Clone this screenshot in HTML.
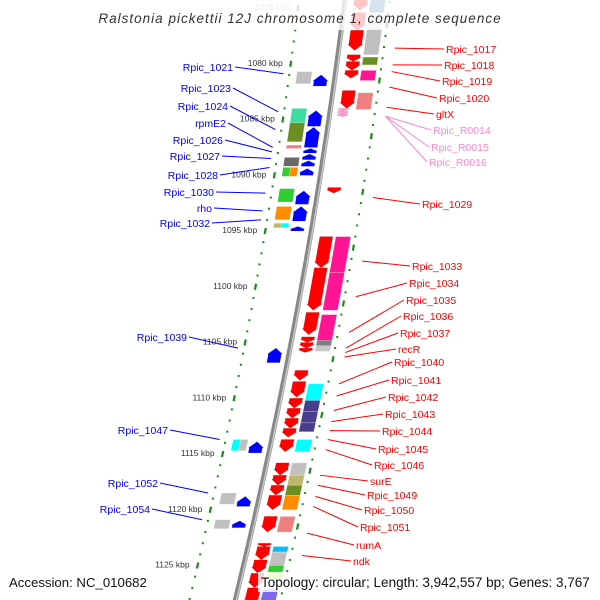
<!DOCTYPE html>
<html><head><meta charset="utf-8">
<style>
html,body{margin:0;padding:0;background:#fff;}
svg{display:block;font-family:"Liberation Sans","DejaVu Sans",sans-serif;}
</style></head>
<body>
<svg id="map" width="600" height="600" viewBox="0 0 600 600" xmlns="http://www.w3.org/2000/svg">
<g id="ticks"></g>
<path id="backbone" fill="none" stroke="#888" stroke-width="5"/>
<path id="backbone2" fill="none" stroke="#c8c8c8" stroke-width="1.5"/>
<g id="boxes"></g>
<g id="arrows"></g>
<g id="labels"></g>
<rect x="0" y="0" width="600" height="30" fill="#fff" fill-opacity="0.78"/>
<text x="300" y="23" text-anchor="middle" font-size="13.5" font-style="italic" fill="#333" letter-spacing="1">Ralstonia pickettii 12J chromosome 1, complete sequence</text>
<rect x="5" y="572" width="146" height="20" fill="#fff" fill-opacity="0.8"/>
<text x="9" y="587" font-size="13.2" fill="#111">Accession: NC_010682</text>
<rect x="258" y="572" width="338" height="20" fill="#fff" fill-opacity="0.8"/>
<text x="261" y="587" font-size="13.5" fill="#111">Topology: circular; Length: 3,942,557 bp; Genes: 3,767</text>
</svg>
<script>
const tickKbp=[1075,1080,1085,1090,1095,1100,1105,1110,1115,1120,1125];
const fwdStart=[1074.0,1075.4,1077.0,1079.2,1079.8,1080.6,1082.4,1091.1,1095.5,1098.3,1102.3,1104.5,1105.0,1105.5,1107.5,1108.5,1110.0,1110.9,1111.8,1112.7,1113.7,1115.8,1116.9,1117.8,1118.7,1120.6,1123.0,1123.3,1124.5,1125.7,1127.0];
const fwdEnd=[1075.2,1077.0,1078.8,1079.8,1080.6,1081.3,1084.0,1091.6,1098.3,1102.1,1104.3,1105.0,1105.5,1105.9,1108.4,1109.9,1110.9,1111.8,1112.7,1113.5,1114.8,1116.9,1117.8,1118.7,1120.0,1122.0,1123.3,1124.5,1125.7,1127.0,1128.5];
const rnaStart=[1084.0,1084.25,1084.5];
const rnaEnd=[1084.25,1084.5,1084.75];
const revStart=[1081.0,1084.2,1085.7,1087.6,1088.1,1088.7,1089.4,1091.4,1092.8,1094.6,1105.5,1113.9,1118.8,1121.0];
const revEnd=[1082.0,1085.6,1087.5,1088.0,1088.6,1089.2,1090.0,1092.6,1094.1,1095.0,1106.8,1114.9,1119.7,1121.6];
const fBoxStart=[1074.0,1075.4,1076.8,1079.4,1080.6,1082.6,1095.5,1098.7,1102.5,1104.8,1105.3,1108.7,1110.2,1111.2,1112.2,1113.7,1115.8,1116.9,1117.8,1118.7,1120.6,1123.3,1123.8,1125.0,1125.6,1126.3,1127.1];
const fBoxEnd=[1075.4,1076.8,1079.2,1080.1,1081.5,1084.1,1098.7,1102.1,1105.5,1105.3,1105.8,1110.2,1111.2,1112.2,1113.0,1114.8,1116.9,1117.8,1118.7,1120.0,1122.0,1123.8,1125.0,1125.6,1126.3,1127.1,1128.5];
const fBoxColor=['#4682b4','#ddd','#c0c0c0','#6b8e23','#ff1493','#f08080','#ff1493','#ff1493','#ff1493','#808080','#c8c8c8','#00ffff','#483d8b','#483d8b','#483d8b','#00ffff','#c0c0c0','#bdb76b','#6b8e23','#ff8c00','#f08080','#00bfff','#c0c0c0','#32cd32','#adff2f','#eeeeee','#7b68ee'];
const rBoxStart=[1080.7,1084.0,1085.3,1087.3,1088.4,1089.3,1089.3,1091.2,1092.8,1094.3,1094.3,1113.7,1113.7,1118.5,1120.9];
const rBoxEnd=[1081.8,1085.3,1087.0,1087.6,1089.2,1090.1,1090.1,1092.4,1094.0,1094.7,1094.7,1114.7,1114.7,1119.5,1121.7];
const rBoxColor=['#c0c0c0','#3cdca0','#6b8e23','#f08080','#696969','#32cd32','#ff8c00','#32cd32','#ff8c00','#bdb76b','#00ffff','#00ffff','#c0c0c0','#c0c0c0','#c0c0c0'];
const rBoxPart=[0,0,0,0,0,1,2,0,0,1,2,1,2,0,0];
const leftNames=['Rpic_1021','Rpic_1023','Rpic_1024','rpmE2','Rpic_1026','Rpic_1027','Rpic_1028','Rpic_1030','rho','Rpic_1032','Rpic_1039','Rpic_1047','Rpic_1052','Rpic_1054'];
const leftAnchor=[1080.9,1084.3,1085.9,1087.5,1087.9,1088.5,1089.3,1091.6,1093.2,1094.0,1105.5,1113.7,1118.5,1120.9];
const leftTextX=[233,231,228,226,223,220,218,214,212,210,187,168,158,150];
const leftTextY=[67,88,106,123,140,156,175,192,208,223,337,430,483,509];
const rightNames=['Rpic_1017','Rpic_1018','Rpic_1019','Rpic_1020','gltX','Rpic_R0014','Rpic_R0015','Rpic_R0016','Rpic_1029','Rpic_1033','Rpic_1034','Rpic_1035','Rpic_1036','Rpic_1037','recR','Rpic_1040','Rpic_1041','Rpic_1042','Rpic_1043','Rpic_1044','Rpic_1045','Rpic_1046','surE','Rpic_1049','Rpic_1050','Rpic_1051','rumA','ndk'];
const rightAnchor=[1078.6,1080.1,1080.7,1082.1,1083.9,1084.7,1084.7,1084.7,1092.0,1097.7,1100.9,1104.1,1105.5,1105.9,1106.3,1108.7,1109.8,1111.1,1112.1,1112.9,1113.7,1114.6,1116.9,1117.8,1118.8,1119.7,1122.1,1124.1];
const rightTextX=[446,444,442,439,436,433,431,429,422,412,409,406,403,400,398,394,391,388,385,382,378,374,370,367,364,360,356,353];
const rightTextY=[49,65,81,98,114,130,147,162,204,266,283,300,316,333,349,362,380,397,414,431,449,465,481,495,510,527,545,561];
const rightPink=[0,0,0,0,0,1,1,1,0,0,0,0,0,0,0,0,0,0,0,0,0,0,0,0,0,0,0,0];

const NS='http://www.w3.org/2000/svg';
function yOf(k){return 8+(k-1075)*11.15;}
function xb(y){return 345-0.1232*y-0.0000993*y*y;}
function mk(tag,attrs,parent){const e=document.createElementNS(NS,tag);for(const a in attrs)e.setAttribute(a,attrs[a]);parent.appendChild(e);return e;}
function pt(y,o){return (xb(y)+o).toFixed(1)+','+y.toFixed(1);}

let d='';for(let y=-5;y<=605;y+=5){d+=(y===-5?'M':'L')+(xb(y)).toFixed(1)+' '+y+' ';}
document.getElementById('backbone').setAttribute('d',d);
let d2='';for(let y=-5;y<=605;y+=5){d2+=(y===-5?'M':'L')+(xb(y)+1.3).toFixed(1)+' '+y+' ';}
document.getElementById('backbone2').setAttribute('d',d2);

const tg=document.getElementById('ticks');
for(let k=1073;k<=1129;k++){
  const y=yOf(k);
  const major=tickKbp.indexOf(k)>=0;
  const l=major?mk('line',{x1:xb(y-3)-46,y1:y-3,x2:xb(y+3)-46,y2:y+3,stroke:'#1a8a1a','stroke-width':2.2},tg):mk('rect',{x:xb(y)-47,y:y-1,width:2,height:2,fill:'#1a8a1a'},tg);
  
  
  const yr=yOf(k+0.5);
  const rmaj=((k-1076)%5===0);
  const r=rmaj?mk('line',{x1:xb(yr-3)+45,y1:yr-3,x2:xb(yr+3)+45,y2:yr+3,stroke:'#1a8a1a','stroke-width':2.2},tg):mk('rect',{x:xb(yr)+44,y:yr-1,width:2,height:2,fill:'#1a8a1a'},tg);
  
  
}
tickKbp.forEach(k=>{
  const y=yOf(k);
  const t=mk('text',{x:xb(y)-54,y:y+2,'text-anchor':'end','font-size':8.5,fill:k===1075?'#aaa':'#333'},tg);
  t.textContent=k+' kbp';
  
  
});

const bg=document.getElementById('boxes');
function box(s,e,o,w,c,name){
  const y1=yOf(s),y2=yOf(e);
  const p=mk('polygon',{points:[pt(y1,o-w/2),pt(y1,o+w/2),pt(y2,o+w/2),pt(y2,o-w/2)].join(' '),fill:c,stroke:'rgba(255,255,255,0.35)','stroke-width':0.6},bg);
  
  
}
fBoxStart.forEach((s,i)=>box(s,fBoxEnd[i],33,15,fBoxColor[i],'forward-cog-box'));
rBoxStart.forEach((s,i)=>{
  const part=rBoxPart[i];
  if(part===0)box(s,rBoxEnd[i],-31,15,rBoxColor[i],'reverse-cog-box');
  else box(s,rBoxEnd[i],part===1?-34.75:-27.25,7.5,rBoxColor[i],'reverse-cog-box');
});

const ag=document.getElementById('arrows');
function arrow(s,e,o,w,c,dir,name){
  const y1=yOf(s),y2=yOf(e),len=y2-y1;
  const h=Math.min(6,len*0.6);
  let pts;
  if(dir>0){pts=[pt(y1,o-w/2+1),pt(y1,o+w/2-1),pt(y2-h,o+w/2-1),pt(y2-h,o+w/2),pt(y2,o),pt(y2-h,o-w/2),pt(y2-h,o-w/2+1)];}
  else{pts=[pt(y2,o-w/2+1),pt(y2,o+w/2-1),pt(y1+h,o+w/2-1),pt(y1+h,o+w/2),pt(y1,o),pt(y1+h,o-w/2),pt(y1+h,o-w/2+1)];}
  const p=mk('polygon',{points:pts.join(' '),fill:c,stroke:'rgba(0,0,0,0.12)','stroke-width':0.6},ag);
  
  
}
fwdStart.forEach((s,i)=>arrow(s,fwdEnd[i],16,15,'#ff0000',1,'forward-gene-arrow'));
rnaStart.forEach((s,i)=>arrow(s,rnaEnd[i],13,12,'#ff99cc',1,'rna-gene-arrow'));
revStart.forEach((s,i)=>arrow(s,revEnd[i],-14,15,'#0000ff',-1,'reverse-gene-arrow'));

const lg=document.getElementById('labels');
leftNames.forEach((n,i)=>{
  const ay=yOf(leftAnchor[i]);
  const l=mk('line',{x1:leftTextX[i]+2,y1:leftTextY[i],x2:xb(ay)-52,y2:ay,stroke:'#0000ff','stroke-width':1},lg);
  
  
  const t=mk('text',{x:leftTextX[i],y:leftTextY[i]+4,'text-anchor':'end','font-size':10.5,fill:'#0000ff'},lg);
  t.textContent=n;
  
  
});
rightNames.forEach((n,i)=>{
  const ay=yOf(rightAnchor[i]);
  const c=rightPink[i]?'#ff88c8':'#ff0000';
  const l=mk('line',{x1:xb(ay)+56,y1:ay,x2:rightTextX[i]-2,y2:rightTextY[i],stroke:c,'stroke-width':1},lg);
  
  
  const t=mk('text',{x:rightTextX[i],y:rightTextY[i]+4,'font-size':10.5,fill:c},lg);
  t.textContent=n;
  
  
});
</script>
</body></html>
